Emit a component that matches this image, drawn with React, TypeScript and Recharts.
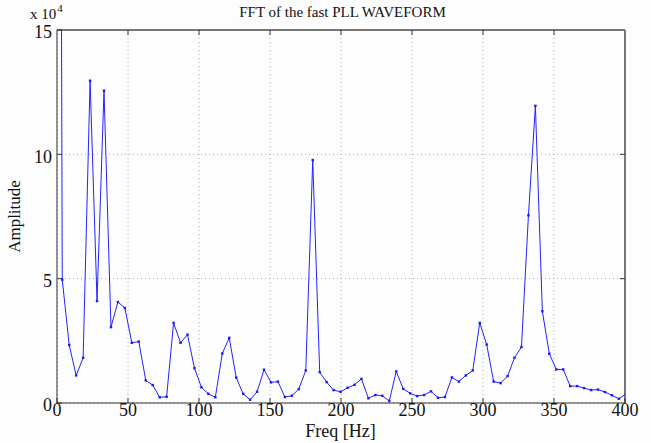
import React from 'react';
import { LineChart, Line, XAxis, YAxis, CartesianGrid, ReferenceLine, Label } from 'recharts';

// Frequencies (Hz) of the FFT bins; the first and last lie outside the visible range
const freqs = [
  -1.2, 3.7, 8.6, 13.5, 18.4, 23.3, 28.2, 33.1, 38.0, 42.9, 47.8, 52.7, 57.6, 62.5, 67.4, 72.3,
  77.2, 82.1, 87.0, 91.9, 96.8, 101.7, 106.6, 111.5, 116.4, 121.3, 126.2, 131.1, 136.0, 140.9,
  145.8, 150.7, 155.6, 160.5, 165.4, 170.3, 175.2, 180.1, 185.0, 189.9, 194.8, 199.7, 204.6,
  209.5, 214.4, 219.3, 224.2, 229.1, 234.0, 238.9, 243.8, 248.7, 253.6, 258.5, 263.4, 268.3,
  273.2, 278.1, 283.0, 287.9, 292.8, 297.7, 302.6, 307.5, 312.4, 317.3, 322.2, 327.1, 332.0,
  336.9, 341.8, 346.7, 351.6, 356.5, 361.4, 366.3, 371.2, 376.1, 381.0, 385.9, 390.8, 395.7, 400.6,
];

// Amplitude in units of 1e4
const amplitude = [
  100, 4.96, 2.33, 1.11, 1.82, 12.96, 4.10, 12.56, 3.05, 4.06, 3.82, 2.42, 2.47, 0.91, 0.72, 0.23,
  0.25, 3.22, 2.42, 2.75, 1.40, 0.63, 0.37, 0.23, 1.99, 2.62, 1.02, 0.37, 0.13, 0.45, 1.34,
  0.83, 0.86, 0.24, 0.29, 0.56, 1.31, 9.77, 1.24, 0.84, 0.52, 0.45, 0.61, 0.73, 0.97, 0.19,
  0.32, 0.29, 0.08, 1.27, 0.57, 0.39, 0.28, 0.32, 0.47, 0.21, 0.24, 1.03, 0.86, 1.11, 1.31,
  3.22, 2.35, 0.86, 0.80, 1.08, 1.82, 2.25, 7.55, 11.95, 3.69, 1.98, 1.35, 1.35, 0.68, 0.68,
  0.60, 0.52, 0.54, 0.44, 0.31, 0.17, 0.36,
];

const xTicks = [0, 50, 100, 150, 200, 250, 300, 350, 400];
const yTicks = [0, 5, 10, 15];

const title = 'FFT of the fast PLL WAVEFORM';
const xLabel = 'Freq [Hz]';
const yLabel = 'Amplitude';

const data = freqs.map((f, i) => ({ f, a: amplitude[i] }));

const FONT = '"Liberation Serif", "DejaVu Serif", serif';

const Dot = (props: any) => {
  const { cx, cy } = props;
  if (cx == null || cy == null || cx < 57 || cx > 626 || cy < 29) return null;
  return <rect x={cx - 1.2} y={cy - 1.2} width={2.4} height={2.4} fill="#1a1aff" />;
};

export default function App() {
  return (
    <div style={{ position: 'absolute', left: 0, top: 0, width: 651, height: 443, background: '#fdfdfd', fontFamily: FONT }}>
      <div style={{ position: 'absolute', left: 0, width: 651, top: 3, paddingLeft: 34, boxSizing: 'border-box', textAlign: 'center', fontSize: 15, color: '#111', lineHeight: '18px' }}>
        {title}
      </div>
      <div style={{ position: 'absolute', left: 30, top: 0, fontSize: 15, color: '#111', lineHeight: '18px' }}>
        x 10<sup style={{ fontSize: 11, position: 'relative', top: -1, marginLeft: 1 }}>4</sup>
      </div>
      <div style={{ position: 'absolute', left: 0, width: 651, top: 421, paddingLeft: 30, boxSizing: 'border-box', textAlign: 'center', fontSize: 18, color: '#111', lineHeight: '20px' }}>
        {xLabel}
      </div>
      <LineChart width={651} height={443} data={data} margin={{ top: 30, right: 26, left: 0, bottom: 0 }}>
        <CartesianGrid stroke="#aaa" strokeDasharray="1 3" horizontal vertical />
        <XAxis
          dataKey="f"
          type="number"
          domain={[0, 400]}
          ticks={xTicks}
          allowDataOverflow
          height={40}
          tickSize={-5}
          tickMargin={5}
          axisLine={{ stroke: '#333' }}
          tickLine={{ stroke: '#333' }}
          tick={{ fill: '#111', fontSize: 18, fontFamily: FONT }}
          interval={0}
        />
        <YAxis
          type="number"
          domain={[0, 15]}
          ticks={yTicks}
          allowDataOverflow
          width={57}
          tickSize={-5}
          tickMargin={10}
          axisLine={{ stroke: '#333' }}
          tickLine={{ stroke: '#333' }}
          tick={{ fill: '#111', fontSize: 18, fontFamily: FONT, dy: 2 }}
          interval={0}
        >
          <Label value={yLabel} angle={-90} position="insideLeft" offset={14} style={{ fill: '#111', fontSize: 17, fontFamily: FONT, textAnchor: 'middle' }} />
        </YAxis>
        <ReferenceLine y={15} stroke="#777" strokeWidth={2} />
        <ReferenceLine x={400} stroke="#777" strokeWidth={2} />
        {xTicks.slice(1, -1).map((t) => (
          <ReferenceLine key={'tt' + t} segment={[{ x: t, y: 15 }, { x: t, y: 14.8 }]} stroke="#333" />
        ))}
        {yTicks.slice(1, -1).map((t) => (
          <ReferenceLine key={'rt' + t} segment={[{ x: 400, y: t }, { x: 396.5, y: t }]} stroke="#333" />
        ))}
        <Line
          dataKey="a"
          type="linear"
          stroke="#2222ff"
          strokeWidth={1}
          dot={<Dot />}
          activeDot={false}
          isAnimationActive={false}
        />
      </LineChart>
    </div>
  );
}
